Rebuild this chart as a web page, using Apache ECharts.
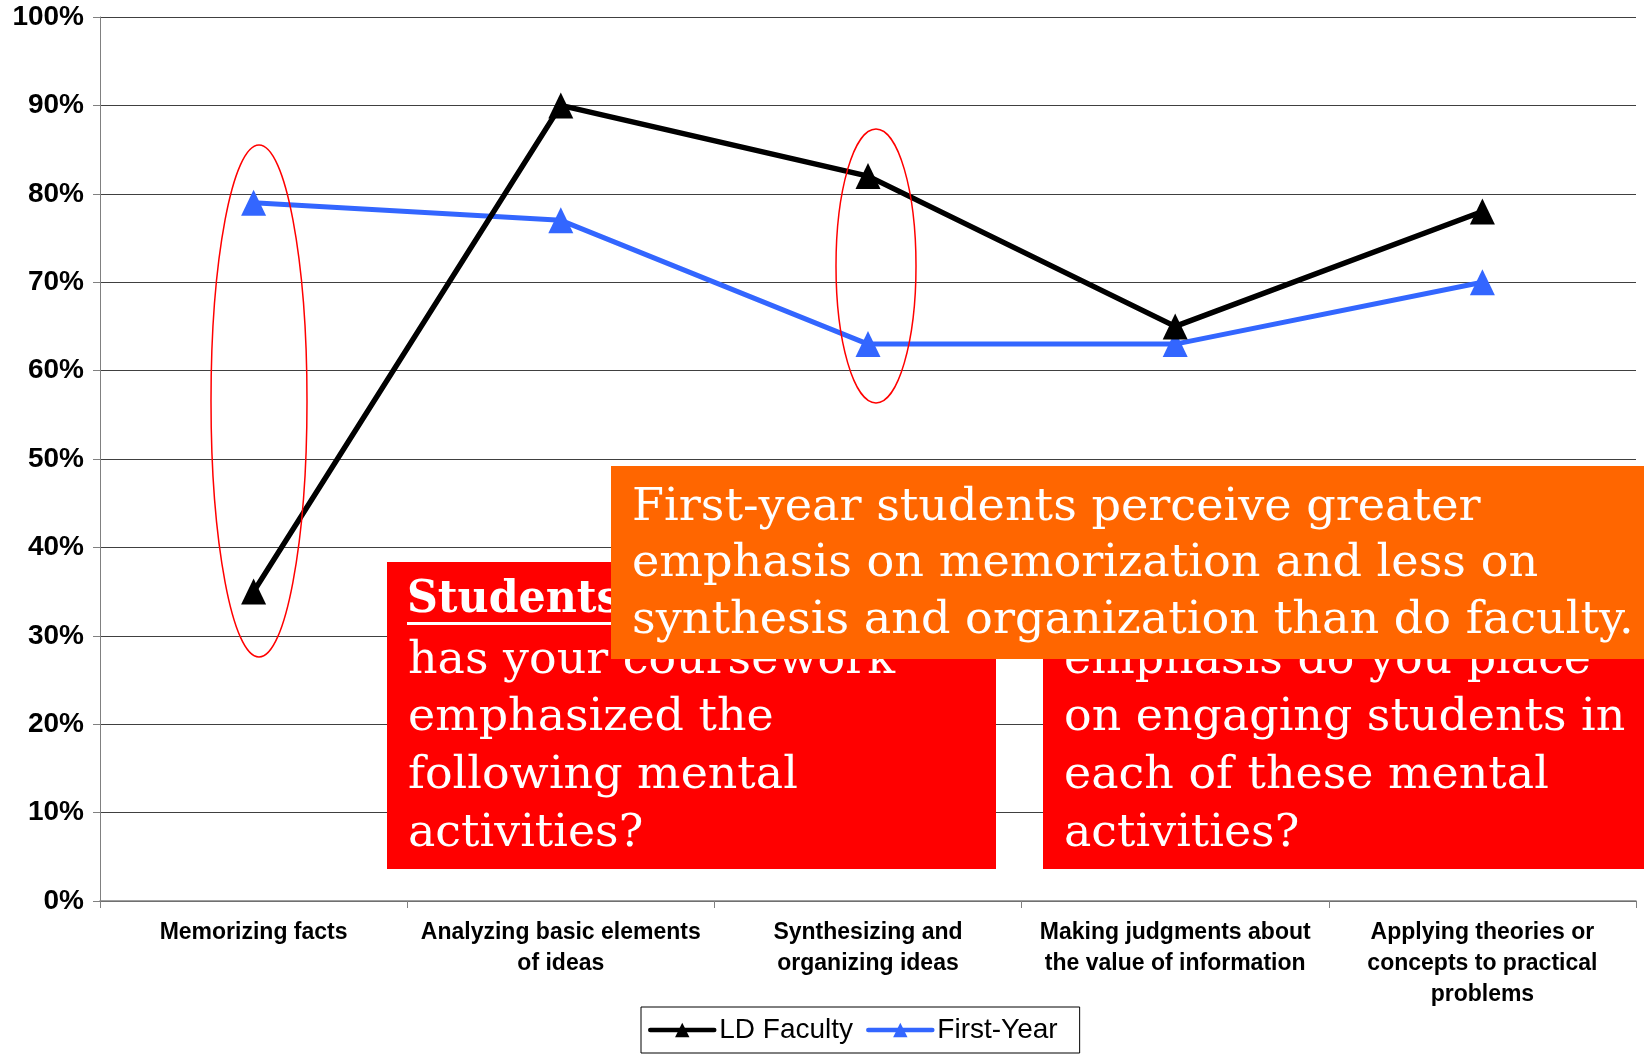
<!DOCTYPE html>
<html>
<head>
<meta charset="utf-8">
<script src="https://cdn.jsdelivr.net/npm/echarts@6/dist/echarts.min.js"></script>
<style>
html,body{margin:0;padding:0;background:#fff;}
#chart{width:1644px;height:1054px;}
</style>
</head>
<body>
<div id="chart"></div>
<script>
var categories = [
  'Memorizing facts',
  'Analyzing basic elements\nof ideas',
  'Synthesizing and\norganizing ideas',
  'Making judgments about\nthe value of information',
  'Applying theories or\nconcepts to practical\nproblems'
];
var seriesNames = ['LD Faculty', 'First-Year'];
var ldFaculty = [35, 90, 82, 65, 78];
var firstYear = [79, 77, 63, 63, 70];

var orangeText = 'First-year students perceive greater\nemphasis on memorization and less on\nsynthesis and organization than do faculty.';
var studentsHead = 'Students';
var studentsText = 'has your coursework\nemphasized the\nfollowing mental\nactivities?';
var facultyText = 'emphasis do you place\non engaging students in\neach of these mental\nactivities?';

var chart = echarts.init(document.getElementById('chart'));
var serifFont = '"DejaVu Serif", serif';

chart.setOption({
  animation: false,
  backgroundColor: '#fff',
  grid: {left: 100, right: 8, top: 17, bottom: 153, containLabel: false},
  xAxis: {
    type: 'category',
    data: categories,
    boundaryGap: true,
    axisLine: {lineStyle: {color: '#808080', width: 1.5}},
    axisTick: {show: true, length: 7, lineStyle: {color: '#808080'}},
    axisLabel: {
      interval: 0,
      margin: 16,
      color: '#000',
      fontFamily: '"Liberation Sans", Arial, sans-serif',
      fontWeight: 'bold',
      fontSize: 23,
      lineHeight: 31
    }
  },
  yAxis: {
    type: 'value',
    min: 0,
    max: 100,
    interval: 10,
    axisLine: {show: true, lineStyle: {color: '#808080', width: 1}},
    axisTick: {show: true, length: 7, lineStyle: {color: '#808080'}},
    splitLine: {show: true, lineStyle: {color: '#404040', width: 1}},
    axisLabel: {
      formatter: '{value}%',
      margin: 16,
      padding: [5, 0, 0, 0],
      color: '#000',
      fontFamily: '"Liberation Sans", Arial, sans-serif',
      fontWeight: 'bold',
      fontSize: 28
    }
  },
  legend: {
    left: 641,
    top: 1007,
    padding: [9, 22, 9, 7],
    itemGap: 13,
    itemWidth: 64,
    itemHeight: 18,
    borderColor: '#000',
    borderWidth: 1,
    lineStyle: {width: 4.5, cap: 'round'},
    textStyle: {
      fontFamily: '"Liberation Sans", Arial, sans-serif',
      fontSize: 28,
      color: '#000'
    },
    data: seriesNames
  },
  series: [
    {
      name: seriesNames[0],
      type: 'line',
      data: ldFaculty,
      symbol: 'triangle',
      symbolSize: [25, 26],
      lineStyle: {color: '#000', width: 5.5},
      itemStyle: {color: '#000'},
      z: 3
    },
    {
      name: seriesNames[1],
      type: 'line',
      data: firstYear,
      symbol: 'triangle',
      symbolSize: [25, 26],
      lineStyle: {color: '#3366FF', width: 5},
      itemStyle: {color: '#3366FF'},
      z: 2
    }
  ],
  graphic: [
    {type: 'ellipse', z: 100, shape: {cx: 259, cy: 401, rx: 48, ry: 256}, style: {fill: 'none', stroke: '#FF0000', lineWidth: 1.5}},
    {type: 'ellipse', z: 100, shape: {cx: 876, cy: 266, rx: 40, ry: 137}, style: {fill: 'none', stroke: '#FF0000', lineWidth: 1.5}},
    {type: 'rect', z: 101, shape: {x: 387, y: 562, width: 609, height: 307}, style: {fill: '#FF0000'}},
    {type: 'rect', z: 101, shape: {x: 1043, y: 562, width: 601, height: 307}, style: {fill: '#FF0000'}},
    {type: 'text', z: 102, x: 407, y: 600, scaleX: 0.95, style: {text: studentsHead, fill: '#fff', fontFamily: serifFont, fontWeight: 'bold', fontSize: 45, verticalAlign: 'middle', align: 'left'}},
    {type: 'rect', z: 102, shape: {x: 407, y: 622, width: 240, height: 3}, style: {fill: '#fff'}},
    {type: 'text', z: 102, x: 408, y: 632, scaleX: 1.02, style: {text: studentsText, fill: '#fff', fontFamily: serifFont, fontSize: 45, lineHeight: 57.7, verticalAlign: 'top', align: 'left'}},
    {type: 'text', z: 102, x: 1064, y: 632, scaleX: 1.02, style: {text: facultyText, fill: '#fff', fontFamily: serifFont, fontSize: 45, lineHeight: 57.7, verticalAlign: 'top', align: 'left'}},
    {type: 'rect', z: 103, shape: {x: 611, y: 466, width: 1033, height: 193}, style: {fill: '#FF6600'}},
    {type: 'text', z: 104, x: 632, y: 480, scaleX: 1.025, style: {text: orangeText, fill: '#fff', fontFamily: serifFont, fontSize: 45, lineHeight: 56.5, verticalAlign: 'top', align: 'left'}}
  ]
});
</script>
</body>
</html>
